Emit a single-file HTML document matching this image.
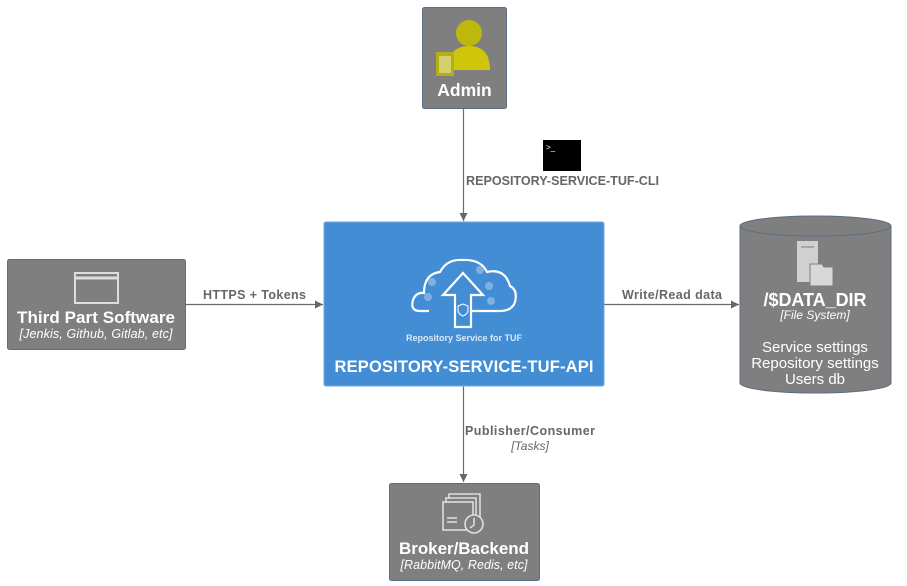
<!DOCTYPE html>
<html><head><meta charset="utf-8"><style>
html,body{margin:0;padding:0;background:#fff;}
svg{display:block;}
text{font-family:"Liberation Sans","DejaVu Sans",sans-serif;}
</style></head><body>
<svg width="907" height="586" viewBox="0 0 907 586" xmlns="http://www.w3.org/2000/svg">
<defs>
<marker id="ah" markerWidth="10" markerHeight="10" refX="8" refY="4" orient="auto" markerUnits="userSpaceOnUse">
<path d="M0,0 L8,4 L0,8 Z" fill="#666"/>
</marker>
</defs>

<line x1="463.5" y1="109" x2="463.5" y2="221" stroke="#6b6b6b" stroke-width="1.2" marker-end="url(#ah)"/>
<line x1="185" y1="304.5" x2="323" y2="304.5" stroke="#6b6b6b" stroke-width="1.2" marker-end="url(#ah)"/>
<line x1="604" y1="304.5" x2="739" y2="304.5" stroke="#6b6b6b" stroke-width="1.2" marker-end="url(#ah)"/>
<line x1="463.5" y1="386" x2="463.5" y2="482" stroke="#6b6b6b" stroke-width="1.2" marker-end="url(#ah)"/>

<rect x="543" y="140" width="38" height="31" fill="#000"/>
<text x="546" y="150" font-size="8" fill="#fff" font-family="Liberation Mono,monospace">&gt;_</text>
<text x="466" y="185" font-size="12.6" font-weight="bold" fill="#666" textLength="193">REPOSITORY-SERVICE-TUF-CLI</text>
<text x="203" y="299" font-size="12.5" font-weight="bold" fill="#666" textLength="103">HTTPS + Tokens</text>
<text x="622" y="299" font-size="12.5" font-weight="bold" fill="#666" textLength="100">Write/Read data</text>
<text x="465" y="435" font-size="12.5" font-weight="bold" fill="#666" textLength="130">Publisher/Consumer</text>
<text x="530" y="450" font-size="12" font-style="italic" fill="#666" text-anchor="middle">[Tasks]</text>

<!-- Admin -->
<rect x="422.5" y="7.5" width="84" height="101" rx="2" fill="#7f7f7f" stroke="#5a6e88" stroke-width="1"/>
<circle cx="469" cy="33" r="13" fill="#bdb70e"/>
<path d="M448,70 Q448,46 469,46 Q490,46 490,70 Z" fill="#cfc60c"/>
<rect x="436" y="52" width="18" height="24" fill="#b5ae1a"/>
<rect x="439" y="56" width="12" height="17" fill="#d6d06a"/>
<text x="464.5" y="96" font-size="17.5" font-weight="bold" fill="#fff" text-anchor="middle">Admin</text>

<!-- API -->
<rect x="324" y="222" width="280" height="164" rx="2" fill="#438dd5" stroke="#6fa6dd" stroke-width="1"/>
<g fill="none" stroke="#fff" stroke-width="2.2">
<path d="M429,311 L420,311 Q410,311 413,300 Q416,292 424,293 Q424,274 440,272 Q447,259 462,260 Q481,259 487,272 Q505,268 510,286 Q518,290 515,302 Q512,311 500,311 L472,311"/>
<path d="M455,327 L455,295 L443,295 L463,273 L483,295 L471,295 L471,327 Z"/>
</g>
<g fill="#7fb0e2">
<circle cx="432" cy="282" r="4"/><circle cx="428" cy="297" r="4"/><circle cx="480" cy="270" r="4"/><circle cx="489" cy="286" r="4"/><circle cx="491" cy="301" r="4"/>
</g>
<path d="M463,304 l-5,2 v4 q0,4 5,6 q5,-2 5,-6 v-4 z" fill="none" stroke="#fff" stroke-width="1"/>
<text x="464" y="341" font-size="9" font-weight="bold" fill="#dbe8f6" text-anchor="middle">Repository Service for TUF</text>
<text x="464" y="372" font-size="16.5" font-weight="bold" fill="#fff" text-anchor="middle" textLength="259">REPOSITORY-SERVICE-TUF-API</text>

<!-- Third party -->
<rect x="7.5" y="259.5" width="178" height="90" rx="2" fill="#7f7f7f" stroke="#5a6e88" stroke-width="1"/>
<rect x="75" y="273" width="43" height="30" fill="none" stroke="#ddd" stroke-width="2"/>
<line x1="75" y1="278" x2="118" y2="278" stroke="#ddd" stroke-width="3"/>
<text x="96" y="323" font-size="17" font-weight="bold" fill="#fff" text-anchor="middle" textLength="158">Third Part Software</text>
<text x="96" y="338" font-size="12.5" font-style="italic" fill="#fff" text-anchor="middle" textLength="153">[Jenkis, Github, Gitlab, etc]</text>

<!-- Data dir cylinder -->
<path d="M740,226 L740,383 A75.5,10 0 0 0 891,383 L891,226 Z" fill="#7f7f7f" stroke="#5a6e88" stroke-width="1"/>
<ellipse cx="815.5" cy="226" rx="75.5" ry="10" fill="#7f7f7f" stroke="#5a6e88" stroke-width="1"/>
<rect x="797" y="241" width="21" height="41" fill="#d0d0d0"/>
<line x1="801" y1="247" x2="814" y2="247" stroke="#999" stroke-width="1.5"/>
<path d="M810,264 L822,264 L824,267 L833,267 L833,286 L810,286 Z" fill="#d8d8d8" stroke="#7f7f7f" stroke-width="1"/>
<text x="815" y="306" font-size="18" font-weight="bold" fill="#fff" text-anchor="middle" textLength="103">/$DATA_DIR</text>
<text x="815" y="319" font-size="12" font-style="italic" fill="#fff" text-anchor="middle">[File System]</text>
<text x="815" y="352" font-size="15" fill="#fff" text-anchor="middle">Service settings</text>
<text x="815" y="368" font-size="15" fill="#fff" text-anchor="middle">Repository settings</text>
<text x="815" y="384" font-size="15" fill="#fff" text-anchor="middle">Users db</text>

<!-- Broker -->
<rect x="389.5" y="483.5" width="150" height="97" rx="2" fill="#7f7f7f" stroke="#5a6e88" stroke-width="1"/>
<g fill="none" stroke="#ddd" stroke-width="1.6">
<path d="M449,499 L449,494 L480,494 L480,519"/>
<path d="M446,503 L446,498 L476,498 L476,520"/>
<rect x="443" y="502" width="30" height="28"/>
<line x1="447" y1="518" x2="457" y2="518"/><line x1="447" y1="522" x2="457" y2="522"/>
<circle cx="474" cy="524" r="9" fill="#7f7f7f"/>
<path d="M474,518 L474,525 L470,528"/>
</g>
<text x="464" y="554" font-size="17" font-weight="bold" fill="#fff" text-anchor="middle" textLength="130">Broker/Backend</text>
<text x="464" y="569" font-size="12.5" font-style="italic" fill="#fff" text-anchor="middle" textLength="127">[RabbitMQ, Redis, etc]</text>
</svg>
</body></html>
